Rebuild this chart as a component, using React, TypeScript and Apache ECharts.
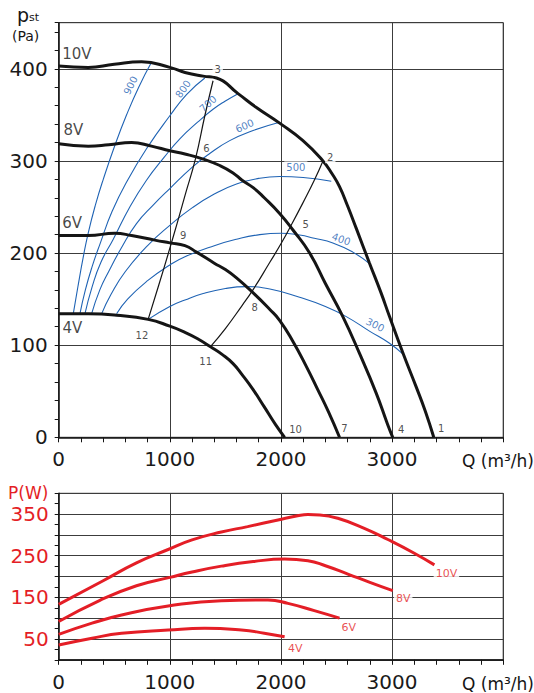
import React, { useEffect, useRef } from 'react';
import * as echarts from 'echarts';

// ---------- DATA (Q in m3/h, p in Pa, P in W) ----------
const fan10V = [[0,403],[266,401.5],[500,405],[746,407.5],[1000,401.5],[1136,396],[1300,392],[1420,390],[1614,373],[1779,358],[1988,341],[2198,322],[2378,300],[2460,286],[2527,272],[2600,251],[2677,227],[2797,189],[2900,157],[2977,131],[3096,92],[3216,55],[3300,28],[3375,0]];
const fan8V = [[0,318.5],[266,316],[450,317.5],[656,320],[835,316],[1000,311],[1136,307.5],[1300,302],[1450,295],[1569,287],[1650,279],[1750,271],[1850,260],[1988,243],[2108,225],[2258,200],[2400,167],[2557,131],[2707,91],[2857,48],[2960,14],[3006,0]];
const fan6V = [[0,219],[266,219],[506,221.5],[656,219],[865,214],[1000,211],[1136,208],[1240,201],[1400,189],[1500,182],[1600,173],[1748,157],[1898,139],[1988,127],[2108,104],[2228,77],[2330,52],[2430,27],[2527,0]];
const fan4V = [[0,134],[266,134],[521,132.5],[805,128],[1000,120.6],[1136,114],[1250,107],[1370,98],[1470,90],[1569,80],[1650,68],[1748,52],[1850,33],[1950,14],[2033,0]];

const iso900 = [[131,134],[175,165],[220,195],[266,222],[330,252],[401,280],[506,317],[611,350],[720,380],[835,407]];
const iso800 = [[191,134],[240,160],[300,185],[372,210],[480,245],[620,279],[800,315],[1000,349],[1150,372],[1315,390]];
const iso700 = [[236,134],[300,163],[380,190],[491,215],[640,250],[790,279],[950,304],[1090,324],[1250,342],[1389,356],[1500,365],[1614,373]];
const iso600 = [[296,134],[370,160],[450,180],[566,206],[700,232],[850,252],[1000,270],[1200,293],[1359,308],[1539,322],[1750,333],[1988,342]];
const iso500 = [[386,134],[470,155],[600,180],[800,208],[1000,230],[1200,249],[1400,264],[1600,275],[1800,281],[1988,283],[2200,282],[2453,278]];
const iso400 = [[521,134],[620,150],[800,170],[1000,187],[1136,196],[1400,208],[1600,215],[1809,220],[2000,221.5],[2168,219.5],[2300,216],[2467,211],[2647,201],[2797,188.5]];
const iso300 = [[805,128],[1000,142],[1136,149],[1300,156],[1500,161.5],[1689,163.5],[1900,161],[2168,152],[2400,142],[2588,131],[2800,115],[2977,102],[3111,89]];

const sys12to3 = [[805,128],[900,165],[985,199],[1065,232],[1140,264],[1230,302],[1315,349],[1389,387]];
const sys11to2 = [[1370,99],[1500,118],[1650,143],[1748,160],[1900,190],[2000,210],[2100,232],[2200,255],[2300,279],[2378,300]];

const power10V = [[0,133],[400,190],[700,233],[985,265],[1200,288],[1464,307],[1700,320],[1973,336],[2150,346],[2243,349],[2350,348],[2512,340],[2750,316],[2962,289],[3200,256],[3381,228]];
const power8V = [[0,92],[371,143],[700,178],[1000,198],[1200,211],[1464,225],[1750,236],[2033,242],[2243,238],[2400,226],[2602,206],[2800,186],[3006,166]];
const power6V = [[0,61],[300,88],[566,107.5],[985,129],[1464,142],[1883,143.5],[2063,135.6],[2300,118],[2527,100]];
const power4V = [[0,35.5],[300,52],[566,63.6],[985,71.5],[1314,75.6],[1644,71.5],[1850,64],[2033,55.5]];

const isoLabels = [
  { text: '900', at: [647, 382], rot: 64 },
  { text: '800', at: [1120, 378], rot: 55 },
  { text: '700', at: [1344, 362], rot: 42 },
  { text: '600', at: [1674, 338], rot: 25 },
  { text: '500', at: [2134, 293], rot: 0 },
  { text: '400', at: [2543, 215], rot: -20 },
  { text: '300', at: [2848, 122], rot: -27 },
];
const pointLabels = [
  { text: '1', at: [3441, 10] }, { text: '2', at: [2444, 304] }, { text: '3', at: [1431, 399] },
  { text: '4', at: [3082, 9] }, { text: '5', at: [2222, 231] }, { text: '6', at: [1330, 313] },
  { text: '7', at: [2572, 10] }, { text: '8', at: [1764, 141] }, { text: '9', at: [1120, 219] },
  { text: '10', at: [2132, 8] }, { text: '11', at: [1323, 82] }, { text: '12', at: [749, 111] },
];
const voltLabelsTop = [
  { text: '10V', at: [164, 416] }, { text: '8V', at: [133, 333] },
  { text: '6V', at: [120, 233] }, { text: '4V', at: [124, 118.5] },
];
const voltLabelsBottom = [
  { text: '10V', at: [3489, 208] }, { text: '8V', at: [3100, 146.6] },
  { text: '6V', at: [2611, 78] }, { text: '4V', at: [2128, 26.6] },
];

const FONT = 'DejaVu Sans';
const BLUE = '#1f63b4';
const RED = '#e41e26';
const INK = '#151515';
const GRIDC = '#3c3c3c';

function majorX(gridIndex: number) {
  return {
    type: 'value', gridIndex, position: 'bottom', min: 0, max: 4000, interval: 1000,
    axisLine: { show: true, onZero: false, lineStyle: { color: INK, width: 1.5 } },
    axisTick: { show: false },
    splitLine: { show: true, lineStyle: { color: GRIDC, width: 1 } },
    axisLabel: { show: true, margin: 12, fontSize: 20, color: '#1a1a1a', fontFamily: FONT,
      formatter: (v: number) => (v === 4000 ? '' : String(v)) },
  };
}
function minorX(gridIndex: number) {
  return {
    type: 'value', gridIndex, position: 'bottom', min: 0, max: 4000, interval: 200,
    axisLine: { show: false }, axisTick: { show: true, length: 5, lineStyle: { color: INK } },
    axisLabel: { show: false }, splitLine: { show: false },
  };
}

function lineSeries(data: number[][], color: string, width: number, xi: number, yi: number, z = 3) {
  return {
    type: 'line', xAxisIndex: xi, yAxisIndex: yi, data, smooth: true,
    symbol: 'none', silent: true, lineStyle: { color, width }, z,
  };
}

function labelSeries(items: any[], xi: number, yi: number, style: any) {
  return {
    type: 'scatter', xAxisIndex: xi, yAxisIndex: yi, symbolSize: 0, silent: true, z: 10,
    data: items.map((it) => ({
      value: it.at, name: it.text,
      label: it.rot !== undefined ? { rotate: it.rot } : undefined,
    })),
    label: { show: true, position: 'inside', formatter: '{b}', fontFamily: FONT, ...style },
  };
}

export default function App() {
  const ref = useRef<HTMLDivElement>(null);
  useEffect(() => {
    const chart = echarts.init(ref.current!, null, { renderer: 'svg' });
    const option: any = {
      animation: false,
      backgroundColor: '#fff',
      textStyle: { fontFamily: FONT },
      grid: [
        { left: 58.7, top: 22.7, width: 444.5, height: 414.6, show: true, borderColor: '#333', borderWidth: 1 },
        { left: 58.7, top: 493.3, width: 444.5, height: 166.5, show: true, borderColor: '#333', borderWidth: 1 },
      ],
      xAxis: [majorX(0), minorX(0), majorX(1), minorX(1)],
      yAxis: [
        {
          type: 'value', gridIndex: 0, position: 'left', min: 0, max: 450, interval: 100,
          axisLine: { show: true, onZero: false, lineStyle: { color: INK, width: 1.5 } },
          axisTick: { show: false },
          splitLine: { show: true, lineStyle: { color: GRIDC, width: 1 } },
          axisLabel: { margin: 11, fontSize: 20, color: '#1a1a1a', fontFamily: FONT,
            formatter: (v: number) => (v <= 400 ? String(v) : '') },
        },
        {
          type: 'value', gridIndex: 0, position: 'left', min: 0, max: 450, interval: 20,
          axisLine: { show: false }, axisTick: { show: true, length: 4, lineStyle: { color: INK } },
          axisLabel: { show: false }, splitLine: { show: false },
        },
        {
          type: 'value', gridIndex: 1, position: 'left', min: 0, max: 400, interval: 50,
          axisLine: { show: true, onZero: false, lineStyle: { color: INK, width: 1.5 } },
          axisTick: { show: false },
          splitLine: { show: true, lineStyle: { color: GRIDC, width: 1 } },
          axisLabel: { margin: 10, fontSize: 20, color: RED, fontFamily: FONT,
            formatter: (v: number) => (v % 100 === 50 ? String(v) : '') },
        },
        {
          type: 'value', gridIndex: 1, position: 'left', min: 0, max: 400, interval: 25,
          axisLine: { show: false }, axisTick: { show: true, length: 4, lineStyle: { color: INK } },
          axisLabel: { show: false }, splitLine: { show: false },
        },
      ],
      series: [
        ...[iso900, iso800, iso700, iso600, iso500, iso400, iso300].map((d) => lineSeries(d, BLUE, 1.1, 0, 0, 3)),
        lineSeries(sys12to3, INK, 1.2, 0, 0, 4),
        lineSeries(sys11to2, INK, 1.2, 0, 0, 4),
        ...[fan10V, fan8V, fan6V, fan4V].map((d) => lineSeries(d, INK, 3, 0, 0, 5)),
        ...[power10V, power8V, power6V, power4V].map((d) => lineSeries(d, RED, 3, 2, 2, 5)),
        labelSeries(isoLabels.filter((l) => l.rot !== 0), 0, 0, { color: BLUE, fontSize: 10 }),
        labelSeries(isoLabels.filter((l) => l.rot === 0), 0, 0, { color: BLUE, fontSize: 10, backgroundColor: '#fff', padding: [1, 2] }),
        labelSeries(pointLabels.filter((p) => p.text === '2' || p.text === '3'), 0, 0, { color: '#222', fontSize: 10, backgroundColor: '#fff', padding: [1, 2] }),
        labelSeries(pointLabels.filter((p) => p.text !== '2' && p.text !== '3'), 0, 0, { color: '#222', fontSize: 10 }),
        labelSeries(voltLabelsTop, 0, 0, { color: INK, fontSize: 15 }),
        labelSeries(voltLabelsBottom, 2, 2, { color: RED, fontSize: 11, backgroundColor: '#fff', padding: [1, 2] }),
      ],
      graphic: [
        { type: 'text', left: 17, top: 5, style: { text: 'p', fontSize: 19, lineHeight: 19, fontFamily: FONT, fill: INK } },
        { type: 'text', left: 29, top: 12, style: { text: 'st', fontSize: 11, lineHeight: 11, fontFamily: FONT, fill: INK } },
        { type: 'text', left: 12, top: 29, style: { text: '(Pa)', fontSize: 14, fontFamily: FONT, fill: INK } },
        { type: 'text', left: 462, top: 452, style: { text: 'Q (m³/h)', fontSize: 17, fontFamily: FONT, fill: INK } },
        { type: 'text', left: 462, top: 675, style: { text: 'Q (m³/h)', fontSize: 17, fontFamily: FONT, fill: INK } },
        { type: 'text', left: 8, top: 484, style: { text: 'P(W)', fontSize: 17, fontFamily: FONT, fill: RED } },
      ],
    };
    chart.setOption(option);
    return () => chart.dispose();
  }, []);
  return <div ref={ref} style={{ position: 'absolute', left: 0, top: 0, width: 534, height: 693 }} />;
}
